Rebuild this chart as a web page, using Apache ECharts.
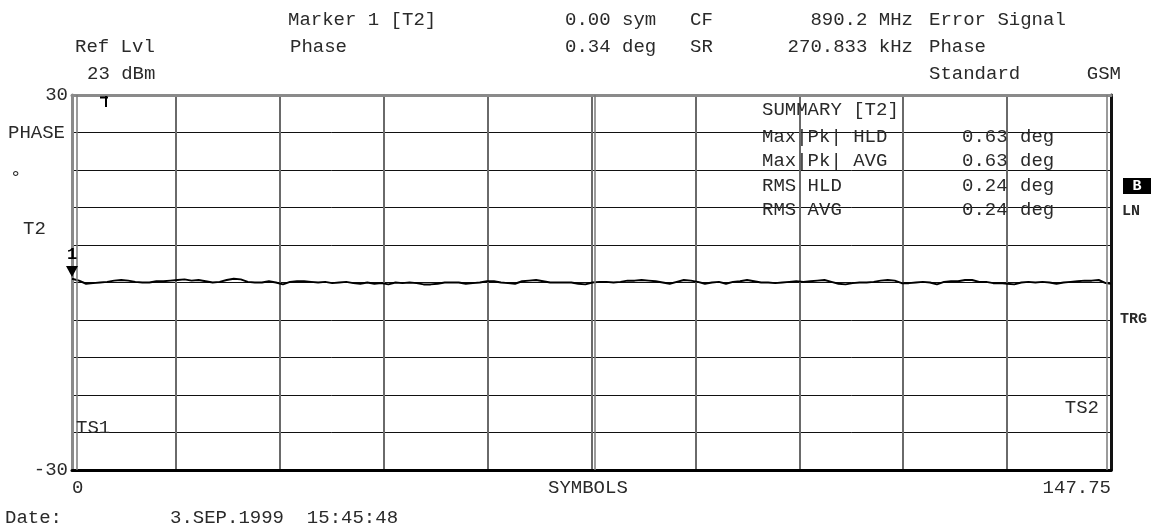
<!DOCTYPE html>
<html>
<head>
<meta charset="utf-8">
<script src="https://cdn.jsdelivr.net/npm/echarts@6/dist/echarts.min.js"></script>
<style>
html,body{margin:0;padding:0;background:#fff;}
#chart{width:1160px;height:532px;}
</style>
</head>
<body>
<div id="chart"></div>
<script>
// ---- data ----
const xMin = 0;
const xMax = 147.75;
const yMin = -30;
const yMax = 30;
const yTickLabels = ['30', '-30'];
const xTickLabels = ['0', '147.75'];
const xAxisName = 'SYMBOLS';
// phase error (deg) at each symbol 0..147, then at 147.75
const phaseDeg = [
  0.6, 0.3, -0.2, -0.1, 0.0, 0.1, 0.3, 0.4, 0.3, 0.1,
  0.0, 0.0, 0.2, 0.2, 0.3, 0.4, 0.5, 0.3, 0.4, 0.2,
  0.0, 0.1, 0.4, 0.6, 0.5, 0.1, 0.0, 0.0, 0.2, 0.0,
  -0.3, 0.1, 0.2, 0.2, 0.1, 0.0, 0.1, -0.1, 0.0, 0.1,
  -0.1, -0.2, 0.0, -0.2, -0.1, -0.3, 0.0, -0.1, 0.0, -0.1,
  -0.3, -0.3, -0.2, 0.0, 0.0, 0.0, -0.2, -0.1, 0.0, 0.2,
  0.2, 0.0, -0.1, -0.2, 0.2, 0.3, 0.4, 0.2, 0.0, 0.0,
  0.0, 0.0, -0.2, -0.3, 0.0, 0.1, 0.1, 0.0, 0.1, 0.3,
  0.3, 0.4, 0.3, 0.2, 0.0, -0.2, 0.1, 0.4, 0.3, 0.1,
  -0.2, 0.0, 0.1, -0.2, 0.1, 0.2, 0.4, 0.2, 0.0, 0.0,
  -0.1, 0.0, 0.1, 0.2, 0.1, 0.2, 0.3, 0.4, 0.1, -0.2,
  -0.3, -0.1, 0.0, 0.0, 0.1, 0.3, 0.4, 0.3, -0.1, -0.1,
  0.0, 0.1, 0.0, -0.3, 0.1, 0.2, 0.2, 0.4, 0.4, 0.1,
  0.1, -0.1, -0.1, -0.2, -0.3, 0.0, 0.1, 0.0, 0.1, 0.0,
  -0.2, 0.0, 0.1, 0.2, 0.3, 0.3, 0.4, -0.1, -0.2
];
const symbolPos = phaseDeg.map((v, i) => (i < phaseDeg.length - 1 ? i : xMax));
const markerSymbol = 0;
const markerValue = 0.34;
const ts1Pos = 0.7;
const ts2Pos = 147.1;
const headerRow1 = ['Marker 1 [T2]', '0.00 sym', 'CF', '890.2 MHz', 'Error Signal'];
const headerRow2 = ['Ref Lvl', 'Phase', '0.34 deg', 'SR', '270.833 kHz', 'Phase'];
const headerRow3 = ['23 dBm', 'Standard', 'GSM'];
const summaryTitle = 'SUMMARY [T2]';
const summaryNames = ['Max|Pk| HLD', 'Max|Pk| AVG', 'RMS HLD', 'RMS AVG'];
const summaryValues = ['0.63', '0.63', '0.24', '0.24'];
const summaryUnit = 'deg';
const dateText = ['Date:', '3.SEP.1999  15:45:48'];

// ---- chart ----
const FONT = "'Liberation Mono', 'DejaVu Sans Mono', monospace";
const TXT = { fontFamily: FONT, fontSize: 19, fill: '#2a2a2a' };
function t(x, y, text, extra) {
  return { type: 'text', x: x, y: y, z: 10, style: Object.assign({ text: text }, TXT, extra || {}) };
}
const seriesData = symbolPos.map((x, i) => [x, phaseDeg[i]]);

const graphics = [
  t(288, 10, headerRow1[0]), t(565, 10, headerRow1[1]), t(690, 10, headerRow1[2]),
  t(913, 10, headerRow1[3], { textAlign: 'right' }), t(929, 10, headerRow1[4]),
  t(75, 37, headerRow2[0]), t(290, 37, headerRow2[1]), t(565, 37, headerRow2[2]),
  t(690, 37, headerRow2[3]), t(913, 37, headerRow2[4], { textAlign: 'right' }), t(929, 37, headerRow2[5]),
  t(87, 64, headerRow3[0]), t(929, 64, headerRow3[1]), t(1121, 64, headerRow3[2], { textAlign: 'right' }),
  t(8, 123, 'PHASE'), t(10, 168, '°'), t(23, 219, 'T2'),
  t(762, 100, summaryTitle),
  t(548, 478, xAxisName),
  t(5, 508, dateText[0]), t(170, 508, dateText[1]),
  t(76, 418, 'TS1'), t(1099, 398, 'TS2', { textAlign: 'right' }),
  { type: 'rect', z: 10, shape: { x: 1123, y: 178, width: 28, height: 16 }, style: { fill: '#000' } },
  t(1137, 179, 'B', { fontWeight: 'bold', fontSize: 15, fill: '#fff', textAlign: 'center', z: 11 }),
  t(1122, 204, 'LN', { fontWeight: 'bold', fontSize: 15 }),
  t(1120, 312, 'TRG', { fontWeight: 'bold', fontSize: 15 }),
  { type: 'line', z: 10, shape: { x1: 100, y1: 97.5, x2: 108, y2: 97.5 }, style: { stroke: '#000', lineWidth: 2 } },
  { type: 'line', z: 10, shape: { x1: 106, y1: 96, x2: 106, y2: 107 }, style: { stroke: '#000', lineWidth: 2 } }
];
summaryNames.forEach((n, i) => {
  const y = 127 + i * 24.5;
  graphics.push(t(762, y, n));
  graphics.push(t(962, y, summaryValues[i]));
  graphics.push(t(1020, y, summaryUnit));
});

const chart = echarts.init(document.getElementById('chart'), null, { renderer: 'canvas' });
chart.setOption({
  animation: false,
  backgroundColor: '#fff',
  grid: { left: 72, right: 49, top: 95, bottom: 62, containLabel: false },
  xAxis: [{
    type: 'value', min: xMin, max: xMax, interval: 14.775,
    axisLine: { show: true, onZero: false, lineStyle: { color: '#000', width: 3 } },
    axisTick: { show: false },
    splitLine: { show: true, lineStyle: { color: '#6a6a6a', width: 2 } },
    axisLabel: {
      show: true, fontFamily: FONT, fontSize: 19, color: '#2a2a2a', margin: 8,
      showMinLabel: true, showMaxLabel: true,
      formatter: v => (Math.abs(v - xMin) < 1e-6 ? xTickLabels[0] : (Math.abs(v - xMax) < 1e-6 ? xTickLabels[1] : '')),
      alignMinLabel: 'left', alignMaxLabel: 'right'
    }
  }, {
    type: 'value', min: xMin, max: xMax, position: 'top',
    axisLine: { show: true, onZero: false, lineStyle: { color: '#8a8a8a', width: 3 } },
    axisTick: { show: false }, axisLabel: { show: false }, splitLine: { show: false }
  }],
  yAxis: [{
    type: 'value', min: yMin, max: yMax, interval: 6,
    axisLine: { show: true, onZero: false, lineStyle: { color: '#8a8a8a', width: 3 } },
    axisTick: { show: false },
    splitLine: { show: true, lineStyle: { color: '#111', width: 1 } },
    axisLabel: {
      fontFamily: FONT, fontSize: 19, color: '#2a2a2a', margin: 4,
      formatter: v => (v === yMax ? yTickLabels[0] : (v === yMin ? yTickLabels[1] : ''))
    }
  }, {
    type: 'value', min: yMin, max: yMax, position: 'right',
    axisLine: { show: true, onZero: false, lineStyle: { color: '#111', width: 3 } },
    axisTick: { show: false }, axisLabel: { show: false }, splitLine: { show: false }
  }],
  series: [{
    type: 'line', data: seriesData, showSymbol: false, symbol: 'none',
    lineStyle: { color: '#000', width: 2 },
    markPoint: {
      symbol: 'triangle', symbolRotate: 180, symbolSize: [12, 11], symbolOffset: [0, -9],
      itemStyle: { color: '#000' },
      label: { show: true, position: 'top', formatter: '1', distance: 3,
        fontFamily: FONT, fontWeight: 'bold', fontSize: 17, color: '#000' },
      data: [{ coord: [markerSymbol, markerValue] }]
    },
    markLine: {
      silent: true, symbol: 'none', label: { show: false },
      lineStyle: { color: '#7a7a7a', width: 1.5, type: 'solid' },
      data: [{ xAxis: ts1Pos }, { xAxis: ts2Pos }, { xAxis: xMax / 2 + 0.4 }]
    }
  }],
  graphic: graphics
});
</script>
</body>
</html>
